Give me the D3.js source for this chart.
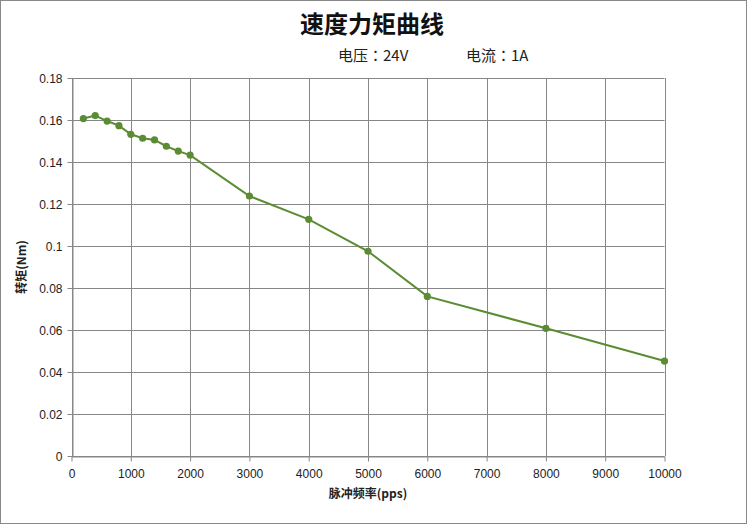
<!DOCTYPE html>
<html><head><meta charset="utf-8">
<script src="https://cdn.jsdelivr.net/npm/d3@7"></script>
<style>body{margin:0;background:#fff}svg{display:block}</style>
</head><body>
<svg id="c" width="747" height="524"></svg>
<script>
const freq = [200,400,600,800,1000,1200,1400,1600,1800,2000,3000,4000,5000,6000,8000,10000];
const torque = [0.1607,0.1621,0.1595,0.1573,0.1532,0.1513,0.1505,0.1475,0.1452,0.1433,0.1238,0.1127,0.0975,0.0760,0.0608,0.0452];
const xTicks = [0,1000,2000,3000,4000,5000,6000,7000,8000,9000,10000];
const yTicks = [0,0.02,0.04,0.06,0.08,0.1,0.12,0.14,0.16,0.18];
const title = "速度力矩曲线";
const sub1 = ["电压","：","24V"], sub2 = ["电流","：","1A"];
const xLabel = "脉冲频率(pps)", yLabel = "转矩(Nm)";

const svg = d3.select("#c");
const W=747,H=524;
const cjk = "'Noto Sans CJK SC','Noto Sans',sans-serif";
const cjkTC = "'Noto Sans CJK TC','Noto Sans',sans-serif";
const num = "'Liberation Sans',Arial,sans-serif";
svg.append("rect").attr("x",0.5).attr("y",0.5).attr("width",W-1).attr("height",H-1).attr("fill","#fff").attr("stroke","#898989");

const x = d3.scaleLinear().domain([0,10000]).range([71.5,664.5]);
const y = d3.scaleLinear().domain([0,0.18]).range([456,78]);
const grid="#878787";
const g = svg.append("g");
g.selectAll(".hg").data(yTicks).join("line").attr("x1",x(0)).attr("x2",x(10000))
 .attr("y1",d=>Math.round(y(d))+0.5).attr("y2",d=>Math.round(y(d))+0.5).attr("stroke",grid).attr("stroke-width",1);
g.selectAll(".vg").data(xTicks).join("line").attr("y1",y(0.18)).attr("y2",y(0))
 .attr("x1",d=>Math.round(x(d))+0.5).attr("x2",d=>Math.round(x(d))+0.5).attr("stroke",grid).attr("stroke-width",1);

const xa = svg.append("g").attr("transform",`translate(0,${Math.round(y(0))+0.5})`)
 .call(d3.axisBottom(x).tickValues(xTicks).tickSize(5).tickSizeOuter(0).tickFormat(d3.format("d")));
const ya = svg.append("g").attr("transform",`translate(${Math.round(x(0))+0.5},0)`)
 .call(d3.axisLeft(y).tickValues(yTicks).tickSize(5).tickSizeOuter(0).tickFormat(d=>d===0?"0":String(+d.toFixed(2))));
[xa,ya].forEach(a=>{a.select(".domain").attr("stroke",grid);a.selectAll(".tick line").attr("stroke",grid).attr("stroke-width",1);
 a.selectAll("text").attr("font-family",num).attr("font-size",12).attr("fill","#222");});
xa.selectAll("text").attr("dy","0").attr("y",21);
ya.selectAll("text").attr("x",-10).attr("dy","0.35em");

const line = d3.line().x((d,i)=>x(freq[i])).y(d=>y(d));
const col="#5b8c33";
svg.append("path").datum(torque).attr("d",line).attr("fill","none").attr("stroke",col).attr("stroke-width",2);
svg.selectAll(".pt").data(torque).join("circle").attr("cx",(d,i)=>x(freq[i])).attr("cy",d=>y(d)).attr("r",3.6).attr("fill",col);

svg.append("text").attr("x",372).attr("y",33).attr("text-anchor","middle").attr("font-family",cjk)
 .attr("font-size",24).attr("font-weight","bold").attr("fill","#111").text(title);
function sub(parts, x0){
  const t = svg.append("text").attr("x",x0).attr("y",61).attr("font-family",cjk).attr("font-size",15).attr("fill","#222");
  t.selectAll("tspan").data(parts).join("tspan").attr("font-family",(d,i)=>i===1?cjkTC:cjk).text(d=>d);
}
sub(sub1,338); sub(sub2,466);
svg.append("text").attr("x",368).attr("y",498).attr("text-anchor","middle").attr("font-family",cjk)
 .attr("font-size",12).attr("font-weight","bold").attr("fill","#222").text(xLabel);
svg.append("text").attr("transform",`translate(26,${y(0.09)}) rotate(-90)`).attr("text-anchor","middle").attr("font-family",cjk)
 .attr("font-size",12).attr("font-weight","bold").attr("fill","#222").text(yLabel);
</script>
</body></html>
